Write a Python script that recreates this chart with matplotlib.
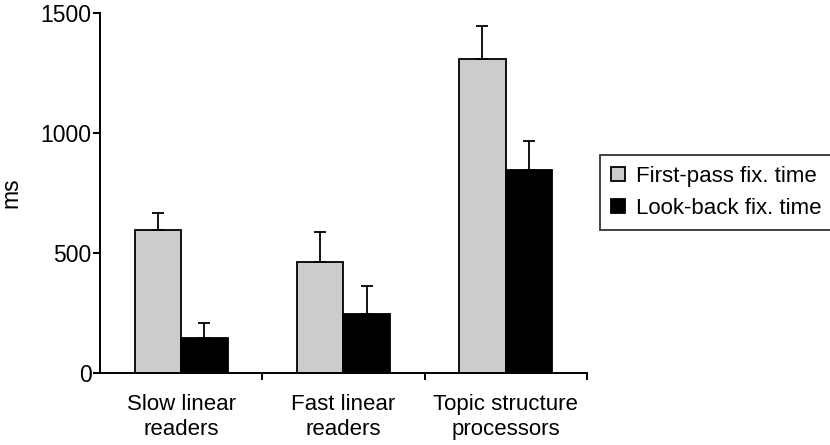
import matplotlib.pyplot as plt
import numpy as np

plt.rcParams['font.family'] = ['Liberation Sans', 'DejaVu Sans']

# ---- DATA ----
groups = ["Slow linear\nreaders", "Fast linear\nreaders", "Topic structure\nprocessors"]
first_pass = [596, 461, 1308]
first_pass_err = [72, 128, 138]
look_back = [144, 246, 846]
look_back_err = [63, 118, 122]
series_names = ["First-pass fix. time", "Look-back fix. time"]

# ---- PLOT ----
fig = plt.figure(figsize=(8.3, 4.45), dpi=100)
ax = fig.add_axes([0.1205, 0.1618, 0.5865, 0.809])

x = np.arange(len(groups))
w = 0.287
err_kw = dict(ecolor="black", elinewidth=1.3, capsize=4, capthick=1.3)
ax.bar(x - w / 2, first_pass, w, color="#cccccc", edgecolor="black", linewidth=1.3,
       yerr=[np.zeros(3), first_pass_err], error_kw=err_kw, label=series_names[0])
ax.bar(x + w / 2, look_back, w, color="black", edgecolor="black", linewidth=1.3,
       yerr=[np.zeros(3), look_back_err], error_kw=err_kw, label=series_names[1])

ax.set_xlim(-0.5, 2.5)
ax.set_ylim(0, 1500)
ax.set_yticks([0, 500, 1000, 1500])
ax.set_xticks([0.5, 1.5, 2.5])
ax.set_xticklabels([])
ax.set_xticks(x, minor=True)
ax.set_xticklabels(groups, minor=True, fontsize=16, linespacing=1.25)
ax.tick_params(axis="x", which="minor", length=0, pad=15)
ax.tick_params(axis="x", which="major", length=5, width=1.4, direction="out")
ax.tick_params(axis="y", length=5, width=1.4, labelsize=16.5, pad=1)

for s in ["top", "right"]:
    ax.spines[s].set_visible(False)
for s in ["left", "bottom"]:
    ax.spines[s].set_linewidth(1.4)

ax.set_ylabel("ms", fontsize=16.5)
ax.yaxis.set_label_coords(-0.16, 0.5)

leg = fig.legend(loc="center", bbox_to_anchor=(0.863, 0.567), fontsize=16,
                 frameon=True, fancybox=False, edgecolor="black",
                 handlelength=0.6, handleheight=0.6, handletextpad=0.5,
                 borderpad=0.5, labelspacing=0.5, borderaxespad=0)
leg.get_frame().set_linewidth(1.3)

plt.savefig("out.png", dpi=100)
